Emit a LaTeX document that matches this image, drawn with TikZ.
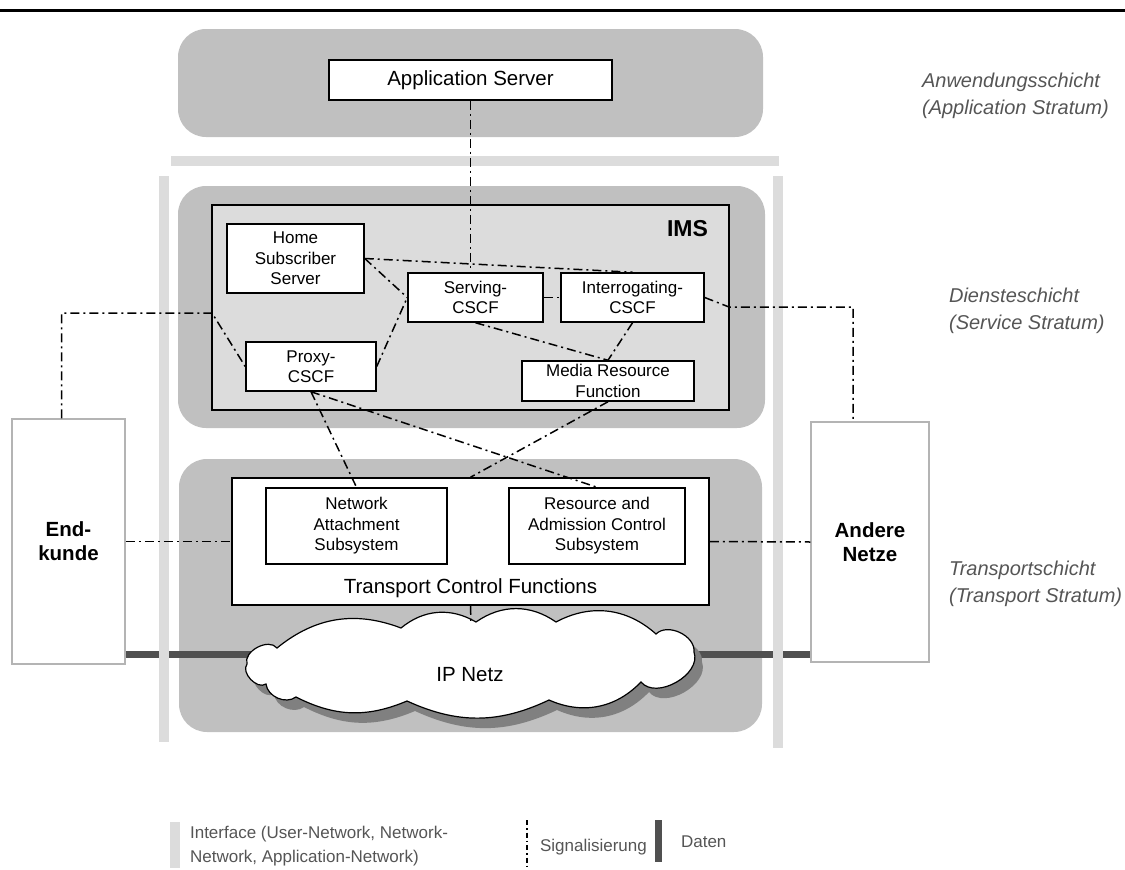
\documentclass[tikz,border=0pt]{standalone}
\usepackage{fontspec}
\setmainfont{Liberation Sans}
\definecolor{strgray}{HTML}{C0C0C0}
\definecolor{ifgray}{HTML}{DCDCDC}
\definecolor{datagray}{HTML}{505050}
\definecolor{shgray}{HTML}{808080}
\definecolor{txtgray}{HTML}{555555}
\definecolor{edgegray}{HTML}{B4B4B4}
% outline of the IP cloud
\newcommand{\ipcloud}{(247,664) to[bend left=80] (277,648) to[bend left=30] (401,628)
  to[bend left=35] (476,622) to[bend left=35] (556,622) to[bend left=35] (656,634)
  to[bend left=70] (694,652) to[bend left=80] (641,682) to[bend left=35] (549,700)
  to[bend left=25] (407,701) to[bend left=25] (296,697) to[bend left=60] (266,684)
  to[bend left=80] (247,664) -- cycle}
\begin{document}
\begin{tikzpicture}[x=1pt, y=-1pt, line width=1.5pt,
  stratum/.style={fill=strgray, rounded corners=28pt},
  main node/.style={rectangle, draw, fill=white, align=center, inner sep=0pt, font=\fontsize{17}{20.5}\selectfont},
  big node/.style={main node, font=\fontsize{20.5}{24}\selectfont},
  end node/.style={rectangle, draw=edgegray, fill=white, align=center, inner sep=0pt, font=\fontsize{20.5}{24}\bfseries\selectfont},
  layer text/.style={anchor=west, align=left, text=txtgray, font=\fontsize{20}{27}\itshape\selectfont},
  legend text/.style={anchor=west, align=left, text=txtgray, font=\fontsize{17}{24}\selectfont},
  sig/.style={dash pattern=on 9pt off 4pt on 2pt off 4pt, line width=1.5pt}]
\useasboundingbox (0,0) rectangle (1125,870);
\draw[line width=3pt] (0,10) -- (1125,10);

% strata
\fill[stratum] (178,29) rectangle (763,137);
\fill[stratum] (178,186) rectangle (765,428);
\fill[stratum] (179,459) rectangle (762,732);

\node[end node, minimum width=113pt, minimum height=245pt] (endk) at (68.5,541.5) {End-\\kunde};
\node[end node, minimum width=118pt, minimum height=240pt] (andn) at (870,542) {Andere\\Netze};

% data
\draw[datagray, line width=7pt] (endk.east |- 0,654) -- (andn.west |- 0,654);

% interfaces
\fill[ifgray] (171,156) rectangle (779,166);
\fill[ifgray] (159,176) rectangle (169,742);
\fill[ifgray] (773,176) rectangle (783,748);

\node[big node, minimum width=283pt, minimum height=40pt] (asrv) at (470.5,80) {Application Server};

\node[draw, fill=ifgray, minimum width=517pt, minimum height=205pt, inner sep=0pt] (ims) at (470.5,307.5) {};
\node[anchor=east, font=\fontsize{23}{26}\bfseries\selectfont] (imslabel) at (712,229) {IMS};
\node[main node, minimum width=137pt, minimum height=69pt] (hss) at (295.5,258.5) {Home\\Subscriber\\Server};
\node[main node, minimum width=135pt, minimum height=49pt] (scscf) at (475.5,297.5) {Serving-\\CSCF};
\node[main node, minimum width=143pt, minimum height=49pt] (icscf) at (632.5,297.5) {Interrogating-\\CSCF};
\node[main node, minimum width=130pt, minimum height=49pt] (pcscf) at (311,366.5) {Proxy-\\CSCF};
\node[main node, minimum width=172pt, minimum height=40pt] (mrf) at (608,381) {Media Resource\\Function};

\node[main node, minimum width=477pt, minimum height=127pt] (tcf) at (470.5,541.5) {};
\node[font=\fontsize{20.5}{24}\selectfont] (tcflabel) at (470.5,588) {Transport Control Functions};
\node[main node, minimum width=181pt, minimum height=76pt] (nass) at (356.5,526) {Network\\Attachment\\Subsystem};
\node[main node, minimum width=176pt, minimum height=76pt] (racs) at (597,526) {Resource and\\Admission Control\\Subsystem};

% IP cloud
\fill[shgray, shift={(8,10)}] \ipcloud;
\draw[fill=white, line width=1.2pt] \ipcloud;
\node[font=\fontsize{20.5}{24}\selectfont] (ipnet) at (470,675) {IP Netz};
\coordinate (cloudtop) at (471,622);

\coordinate (imsl) at (212,313);
\coordinate (imsr) at (729,307);

\path[sig]
  (asrv.south) edge (asrv.south |- scscf.north)
  (hss.east) edge (icscf.north)
             edge (scscf.west)
  (pcscf.east) edge (scscf.west)
  (scscf.east) edge (icscf.west)
  (scscf.south) edge (mrf.north)
  (icscf.south) edge (mrf.north)
  (pcscf.south) edge (nass.north)
                edge (racs.north)
  (mrf.south) edge (tcf.north)
  (tcf.south) edge (cloudtop)
  (endk.east) edge (tcf.west)
  (tcf.east) edge (andn.west)
  ;
\draw[sig] ([xshift=-7pt]endk.north) |- (imsl) -- (pcscf.west);
\draw[sig] (icscf.east) -- (imsr) -| ([xshift=-17pt]andn.north);

% strata labels
\node[layer text] (applayer) at (918,96) {Anwendungsschicht\\(Application Stratum)};
\node[layer text] (servlayer) at (945,311) {Diensteschicht\\(Service Stratum)};
\node[layer text] (translayer) at (945,584) {Transportschicht\\(Transport Stratum)};

% legend
\fill[ifgray] (170,822) rectangle (180,868);
\node[legend text] (lgif) at (186,846) {Interface (User-Network, Network-\\Network, Application-Network)};
\coordinate (lgtop) at (527,820);
\coordinate (lgbot) at (527,866);
\draw[sig, line width=1.2pt, dash pattern=on 5pt off 3pt on 1.5pt off 3pt] (lgtop) -- (lgbot);
\node[legend text] (lgsig) at (536,847) {Signalisierung};
\fill[datagray] (655,820) rectangle (662,862);
\node[legend text] (lgdata) at (677,842) {Daten};
\end{tikzpicture}
\end{document}
